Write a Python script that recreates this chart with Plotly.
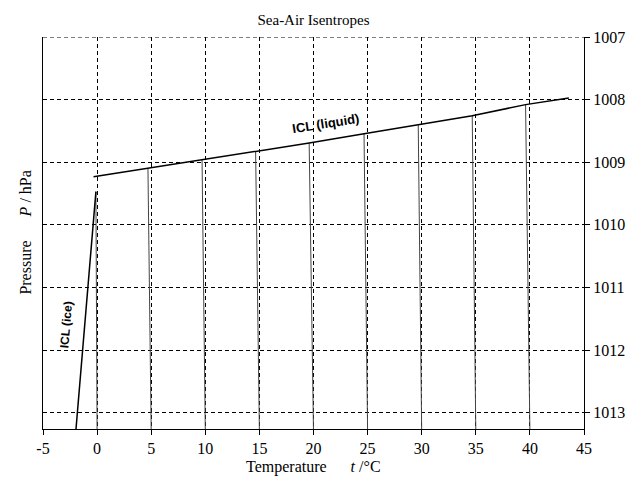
import plotly.graph_objects as go

# ---- data ----
x_ticks = [-5, 0, 5, 10, 15, 20, 25, 30, 35, 40, 45]
x_tick_text = ["-5", "0", "5", "10", "15", "20", "25", "30", "35", "40", "45"]
y_ticks = [1007, 1008, 1009, 1010, 1011, 1012, 1013]

# ICL (liquid) curve
liq_T = [-0.33, 4.7, 9.7, 14.65, 19.6, 24.67, 29.68, 34.67, 39.6, 43.6]
liq_P = [1009.23, 1009.095, 1008.96, 1008.83, 1008.694, 1008.545, 1008.406, 1008.258, 1008.08, 1007.975]

# ICL (ice) curve
ice_T = [-0.11, -1.95]
ice_P = [1009.47, 1013.26]

# isentropes (from condensation level down to the bottom)
isen_T_bottom = [0, 5, 10, 15, 20, 25, 30, 35, 40]
isen_T_top = [-0.11, 4.7, 9.7, 14.65, 19.6, 24.67, 29.68, 34.67, 39.6]
isen_P_top = [1009.47, 1009.095, 1008.96, 1008.83, 1008.694, 1008.545, 1008.406, 1008.258, 1008.08]
isen_P_bottom = 1013.3

serif = "Liberation Serif"
sans = "Liberation Sans"

fig = go.Figure()

for tt, tb, pt in zip(isen_T_top, isen_T_bottom, isen_P_top):
    fig.add_trace(go.Scatter(x=[tt, tb], y=[pt, isen_P_bottom], mode="lines",
                             line=dict(color="#444444", width=1), hoverinfo="skip"))

fig.add_trace(go.Scatter(x=liq_T, y=liq_P, mode="lines",
                         line=dict(color="black", width=1.5), hoverinfo="skip"))
fig.add_trace(go.Scatter(x=ice_T, y=ice_P, mode="lines",
                         line=dict(color="black", width=1.5), hoverinfo="skip"))

fig.add_annotation(x=21.16, y=1008.386, xref="x", yref="y", text="<b>ICL (liquid)</b>",
                   showarrow=False, textangle=-9, font=dict(family=sans, size=13, color="black"))
fig.add_annotation(x=-2.85, y=1011.6, xref="x", yref="y", text="<b>ICL (ice)</b>",
                   showarrow=False, textangle=-85, font=dict(family=sans, size=12, color="black"))

# dashed top frame line (grid line at 1007)
fig.add_shape(type="line", xref="paper", x0=0, x1=1, yref="y", y0=1007, y1=1007,
              line=dict(color="black", width=1, dash="4px,3px"))

# axis titles
fig.add_annotation(x=0.5, y=-0.098, xref="paper", yref="paper",
                   text="Temperature\u00a0\u00a0\u00a0\u00a0\u00a0\u00a0<i>t</i> /°C",
                   showarrow=False, yanchor="middle", font=dict(family=serif, size=16, color="black"))
fig.add_annotation(x=-0.034, y=0.5, xref="paper", yref="paper",
                   text="Pressure\u00a0\u00a0\u00a0\u00a0\u00a0\u00a0<i>P</i> / hPa",
                   showarrow=False, textangle=-90, xanchor="center",
                   font=dict(family=serif, size=16, color="black"))

fig.update_layout(
    width=643, height=481,
    margin=dict(l=43, r=59, t=37, b=52),
    paper_bgcolor="white", plot_bgcolor="white",
    showlegend=False,
    font=dict(family=serif, size=16, color="black"),
    title=dict(text="Sea-Air Isentropes", x=(42.7 + 584.3) / 2 / 643, xanchor="center",
               y=1 - 20 / 481, yanchor="middle", font=dict(family=serif, size=15, color="black")),
    xaxis=dict(range=[-5, 45], tickvals=x_ticks, ticktext=x_tick_text, ticks="outside", ticklen=5,
               tickcolor="black",
               showline=True, linecolor="black", linewidth=1, mirror=False,
               showgrid=True, gridcolor="black", gridwidth=1, griddash="4px,3px",
               zeroline=False, tickfont=dict(family=serif, size=16)),
    yaxis=dict(range=[1013.26, 1007], tickvals=y_ticks, side="right", ticks="outside", ticklen=5,
               tickcolor="black", showline=True, linecolor="black", linewidth=1, mirror=True,
               showgrid=True, gridcolor="black", gridwidth=1, griddash="4px,3px",
               zeroline=False, tickfont=dict(family=serif, size=16)),
)

fig.write_html("out.html")
